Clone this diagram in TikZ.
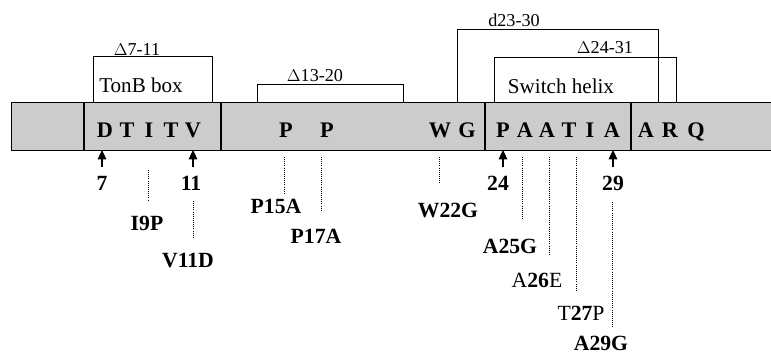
\documentclass[tikz,border=0pt]{standalone}
\usepackage{fontspec}
\setmainfont{Liberation Serif}
\usetikzlibrary{arrows.meta, positioning}
\definecolor{cBar}{RGB}{204,204,204}
\tikzset{
	res/.style      ={font=\fontsize{19}{21}\selectfont\bfseries, inner sep=0pt, anchor=base},
	num/.style      ={font=\fontsize{18.5}{21}\selectfont\bfseries, inner sep=0pt, anchor=base},
	mut/.style      ={font=\fontsize{18.5}{21}\selectfont, inner sep=0pt, anchor=base},
	tag/.style      ={font=\fontsize{15.5}{18}\selectfont, inner sep=0pt, anchor=base},
	region/.style   ={font=\fontsize{18}{20}\selectfont, inner sep=0pt, anchor=base},
	delbox/.style   ={draw=black, line width=0.8pt},
	divider/.style  ={line width=2.2pt},
	posarrow/.style ={-{Triangle[length=2.8mm, width=2.6mm]}, line width=0.9pt},
	mutline/.style  ={densely dotted, line width=0.8pt},
}
% mutation label: letters and bold position
\newcommand{\mutlab}[3]{#1\textbf{#2}#3}

\begin{document}
\begin{tikzpicture}[x=0.3mm, y=-0.3mm]
\useasboundingbox (0,0) rectangle (771,354);
% sequence bar
\draw[fill=cBar, line width=0.8pt] (11,102) rectangle (772,150);
\coordinate (barlow) at (0,150);
\draw[divider] (84,102) -- (84,150);
\draw[divider] (221,102) -- (221,150);
\draw[divider] (485,102) -- (485,150);
\draw[divider] (631,102) -- (631,150);

% residues
\node[res] (r7)  at (105,137) {D};
\node[res] (r8)  at (127,137) {T};
\node[res] (r9)  at (149,137) {I};
\node[res] (r10) at (171,137) {T};
\node[res] (r11) at (193,137) {V};
\node[res] (r15) at (286,137) {P};
\node[res] (r17) at (327,137) {P};
\node[res] (r22) at (440,137) {W};
\node[res] (r23) at (467,137) {G};
\node[res] (r24) at (503,137) {P};
\node[res] (r25) at (525,137) {A};
\node[res] (r26) at (547,137) {A};
\node[res] (r27) at (569,137) {T};
\node[res] (r28) at (590,137) {I};
\node[res] (r29) at (612,137) {A};
\node[res] (r30) at (646,137) {A};
\node[res] (r31) at (670,137) {R};
\node[res] (r32) at (696,137) {Q};

% deletion boxes
\draw[delbox] (93,102) |- (212,56) -- (212,102);
\node[tag] (d711) at (137,55) {$\Delta$7-11};
\node[region] (tonb) at (141,92) {TonB box};
\draw[delbox] (257,102) |- (403,84) -- (403,102);
\node[tag] (d1320) at (315,81) {$\Delta$13-20};
\draw[delbox] (457,102) |- (658,29) -- (658,102);
\node[tag] (d2330) at (514,26) {d23-30};
\draw[delbox] (494,102) |- (676,57) -- (676,102);
\node[tag] (d2431) at (605,53) {$\Delta$24-31};
\node[region] (switch) at (561,93) {Switch helix};

% numbered positions
\node[num] (n7)  at (102,190) {7};
\node[num] (n11) at (191,190) {11};
\node[num] (n24) at (498,190) {24};
\node[num] (n29) at (613,190) {29};
\coordinate (a7)  at (102,167);
\coordinate (a11) at (193,167);
\coordinate (a24) at (503,167);
\coordinate (a29) at (613,167);
\draw[posarrow] (a7)  -- (a7 |- barlow);
\draw[posarrow] (a11) -- (a11 |- barlow);
\draw[posarrow] (a24) -- (a24 |- barlow);
\draw[posarrow] (a29) -- (a29 |- barlow);

% point mutations
\node[mut] (m9)  at (147,230) {\textbf{I9P}};
\node[mut] (m11) at (188,267) {\textbf{V11D}};
\node[mut] (m15) at (276,213) {\textbf{P15A}};
\node[mut] (m17) at (316,243) {\textbf{P17A}};
\node[mut] (m22) at (448,217) {\textbf{W22G}};
\node[mut] (m25) at (510,253) {\textbf{A25G}};
\node[mut] (m26) at (537,287) {\mutlab{A}{26}{E}};
\node[mut] (m27) at (581,320) {\mutlab{T}{27}{P}};
\node[mut] (m29) at (601,350) {\textbf{A29G}};
\draw[mutline] (148,170) -- (148,200);
\draw[mutline] (193,201) -- (193,238);
\draw[mutline] (284,157) -- (284,193);
\draw[mutline] (321,157) -- (321,210);
\draw[mutline] (439,157) -- (439,183);
\draw[mutline] (522,157) -- (522,219);
\draw[mutline] (549,157) -- (549,255);
\draw[mutline] (576,157) -- (576,290);
\draw[mutline] (612,202) -- (612,327);
\end{tikzpicture}
\end{document}
